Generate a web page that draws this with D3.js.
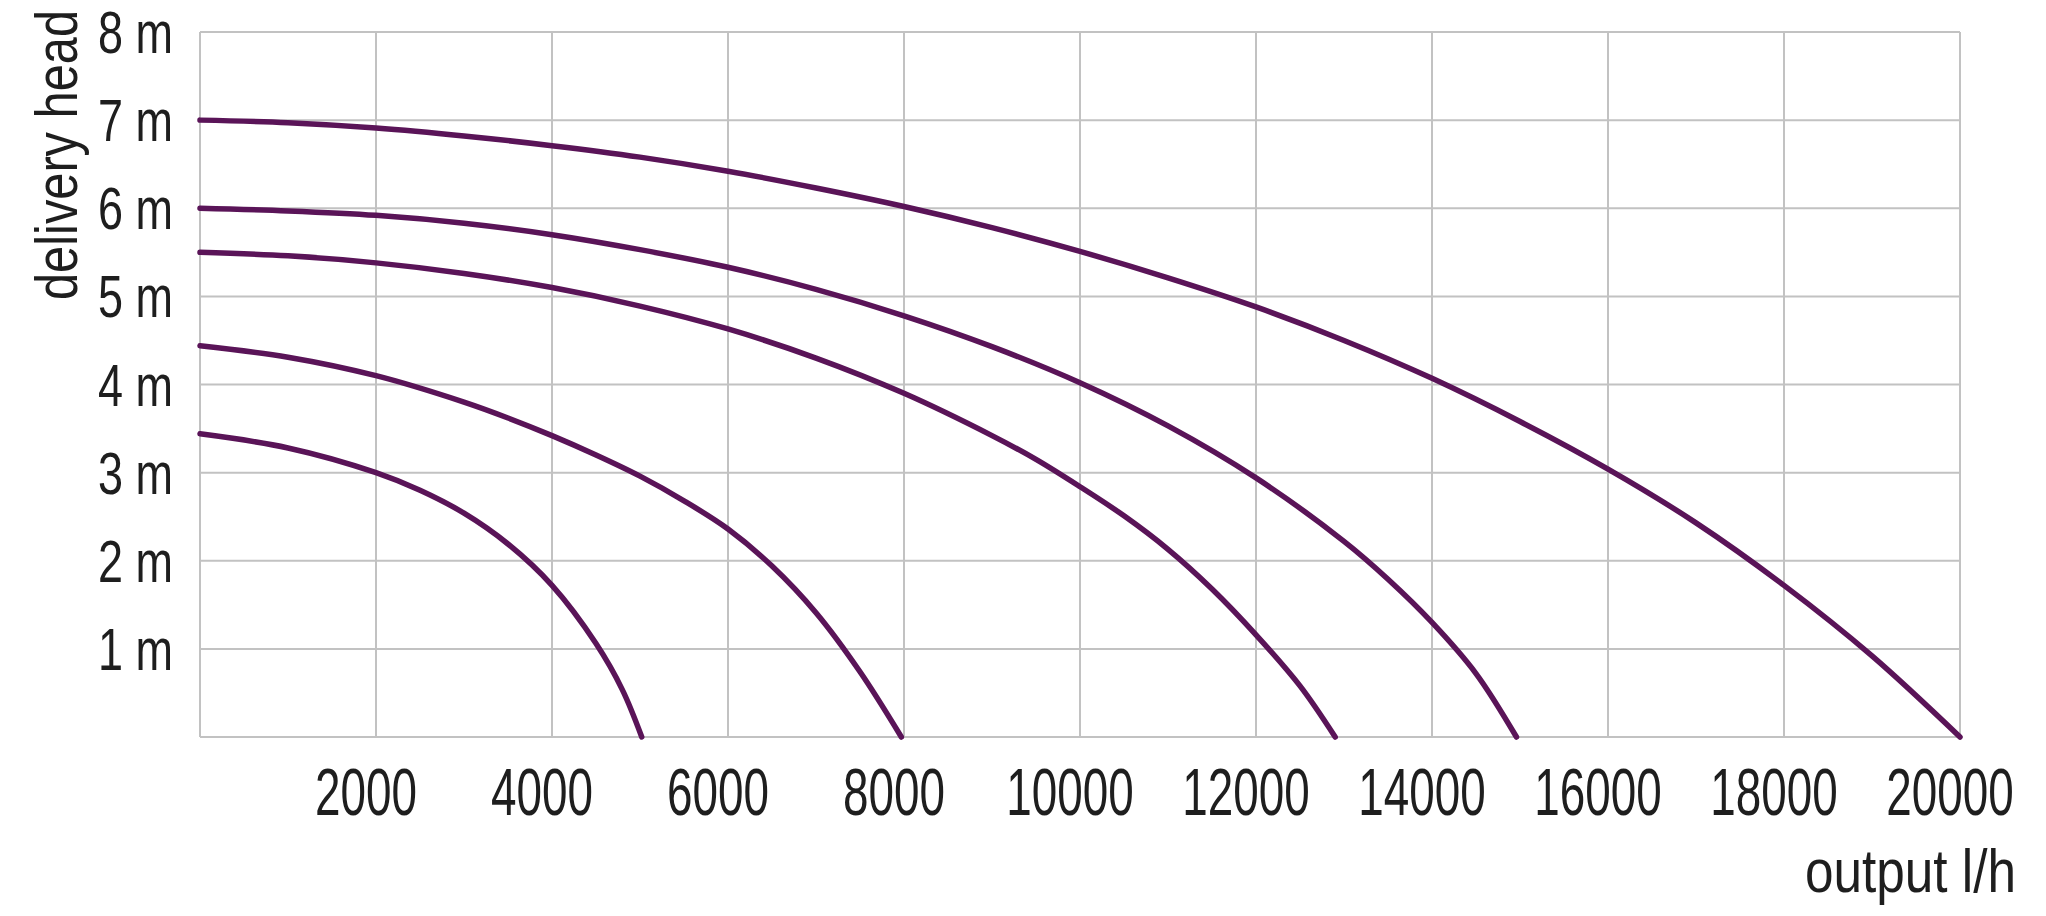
<!DOCTYPE html>
<html>
<head>
<meta charset="utf-8">
<script src="https://cdn.jsdelivr.net/npm/d3@7"></script>
<style>
  html, body { margin: 0; padding: 0; background: #ffffff; }
  svg { display: block; }
  text { font-family: "Liberation Sans Narrow", "Liberation Sans", Arial, sans-serif; fill: #1e1e1e; }
</style>
</head>
<body>
<svg id="chart" width="2046" height="916"></svg>
<script>
// ---- data ----
const xTicks = [2000, 4000, 6000, 8000, 10000, 12000, 14000, 16000, 18000, 20000];
const yTicks = [1, 2, 3, 4, 5, 6, 7, 8];
const yTickLabels = ["1 m", "2 m", "3 m", "4 m", "5 m", "6 m", "7 m", "8 m"];
const xLabel = "output l/h";
const yLabel = "delivery head";

const pump1Flow = [0, 1000, 2000, 3000, 4000, 5000, 6000, 7000, 8000, 9000, 10000, 11000, 12000, 13000, 14000, 15000, 16000, 17000, 18000, 19000, 20000];
const pump1Head = [7.0, 6.97, 6.91, 6.82, 6.71, 6.58, 6.42, 6.23, 6.02, 5.78, 5.51, 5.21, 4.88, 4.50, 4.07, 3.58, 3.04, 2.43, 1.72, 0.92, 0];

const pump2Flow = [0, 1000, 2000, 3000, 4000, 5000, 6000, 7000, 8000, 9000, 10000, 11000, 12000, 13000, 13500, 14000, 14500, 14960];
const pump2Head = [6.0, 5.97, 5.92, 5.83, 5.70, 5.53, 5.33, 5.08, 4.78, 4.43, 4.02, 3.53, 2.94, 2.22, 1.79, 1.30, 0.72, 0];

const pump3Flow = [0, 1000, 2000, 3000, 4000, 5000, 6000, 7000, 8000, 9000, 9500, 10000, 10500, 11000, 11500, 12000, 12500, 12900];
const pump3Head = [5.5, 5.46, 5.38, 5.26, 5.10, 4.89, 4.63, 4.30, 3.90, 3.42, 3.15, 2.84, 2.51, 2.13, 1.68, 1.16, 0.58, 0];

const pump4Flow = [0, 1000, 2000, 3000, 3500, 4000, 4500, 5000, 5500, 6000, 6500, 7000, 7500, 7970];
const pump4Head = [4.44, 4.31, 4.10, 3.80, 3.62, 3.42, 3.20, 2.96, 2.68, 2.36, 1.94, 1.41, 0.74, 0];

const pump5Flow = [0, 1000, 2000, 2500, 3000, 3500, 4000, 4500, 4800, 5020];
const pump5Head = [3.44, 3.28, 3.0, 2.80, 2.54, 2.19, 1.72, 1.06, 0.535, 0];

const seriesFlows = [pump1Flow, pump2Flow, pump3Flow, pump4Flow, pump5Flow];
const seriesHeads = [pump1Head, pump2Head, pump3Head, pump4Head, pump5Head];

// ---- layout ----
const svg = d3.select("#chart");
const plotLeft = 200, plotRight = 1960, plotTop = 32, plotBottom = 737;

const x = d3.scaleLinear().domain([0, 20000]).range([plotLeft, plotRight]);
const y = d3.scaleLinear().domain([0, 8]).range([plotBottom, plotTop]);

svg.append("rect").attr("x", 0).attr("y", 0).attr("width", 2046).attr("height", 916).attr("fill", "#ffffff");

// grid
const grid = svg.append("g").attr("class", "grid");
grid.selectAll("line.v").data([0].concat(xTicks)).join("line")
  .attr("class", "v")
  .attr("x1", d => x(d)).attr("x2", d => x(d))
  .attr("y1", y(8)).attr("y2", y(0))
  .attr("stroke", "#c2c2c2").attr("stroke-width", 2);
grid.selectAll("line.h").data([0].concat(yTicks)).join("line")
  .attr("class", "h")
  .attr("x1", x(0)).attr("x2", x(20000))
  .attr("y1", d => y(d)).attr("y2", d => y(d))
  .attr("stroke", "#c2c2c2").attr("stroke-width", 2);

// x tick labels (condensed look: narrow width, stretched height)
const xk = 1.27;
svg.append("g").attr("class", "x-labels")
  .selectAll("text").data(xTicks).join("text")
  .attr("transform", d => `translate(${x(d) - 10},${plotBottom + 78}) scale(1,${xk})`)
  .attr("text-anchor", "middle")
  .attr("font-size", 52)
  .attr("textLength", d => String(d).length * 25.5)
  .attr("lengthAdjust", "spacingAndGlyphs")
  .text(d => String(d));

// y tick labels
const yk = 1.27;
svg.append("g").attr("class", "y-labels")
  .selectAll("text").data(yTicks).join("text")
  .attr("transform", d => `translate(${plotLeft - 27},${y(d) + 21}) scale(1,${yk})`)
  .attr("text-anchor", "end")
  .attr("font-size", 46)
  .attr("textLength", 75)
  .attr("lengthAdjust", "spacingAndGlyphs")
  .text((d, i) => yTickLabels[i]);

// axis titles
svg.append("text")
  .attr("transform", "translate(2016,892) scale(1,1.24)")
  .attr("text-anchor", "end")
  .attr("font-size", 50)
  .attr("textLength", 211)
  .attr("lengthAdjust", "spacingAndGlyphs")
  .text(xLabel);

svg.append("text")
  .attr("transform", "translate(77,155) rotate(-90) scale(1,1.2)")
  .attr("text-anchor", "middle")
  .attr("font-size", 50)
  .attr("textLength", 290)
  .attr("lengthAdjust", "spacingAndGlyphs")
  .text(yLabel);

// curves
const line = d3.line()
  .x(d => x(d[0]))
  .y(d => y(d[1]))
  .curve(d3.curveCatmullRom.alpha(0.5));

const seriesData = seriesFlows.map((flows, i) => flows.map((f, j) => [f, seriesHeads[i][j]]));

svg.append("g").selectAll("path").data(seriesData).join("path")
  .attr("d", line)
  .attr("fill", "none")
  .attr("stroke", "#5a1458")
  .attr("stroke-width", 5.5)
  .attr("stroke-linecap", "round")
  .attr("stroke-linejoin", "round");
</script>
</body>
</html>
